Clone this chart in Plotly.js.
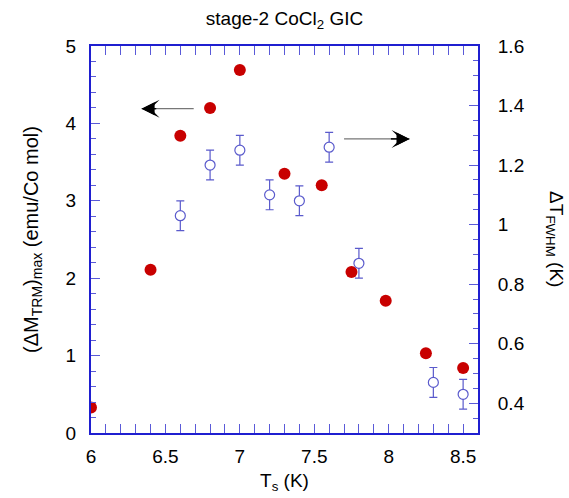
<!DOCTYPE html>
<html>
<head>
<meta charset="utf-8">
<script src="https://cdn.plot.ly/plotly-3.0.1.min.js"></script>
<style>html,body{margin:0;padding:0;background:#fff;}#chart{width:569px;height:498px;}</style>
</head>
<body>
<div id="chart"></div>
<script>
// Red filled circles: (ΔM_TRM)max, left axis
var tsTRM = [6.0, 6.4, 6.6, 6.8, 7.0, 7.3, 7.55, 7.75, 7.98, 8.25, 8.5];
var dMTRM = [0.33, 2.11, 3.84, 4.20, 4.69, 3.35, 3.20, 2.08, 1.71, 1.03, 0.84];
// Blue open circles: ΔT_FWHM, right axis
var tsFWHM = [6.6, 6.8, 7.0, 7.2, 7.4, 7.6, 7.8, 8.3, 8.5];
var dTFWHM = [1.03, 1.20, 1.25, 1.10, 1.08, 1.26, 0.87, 0.47, 0.43];
var dTErr = [0.05, 0.05, 0.05, 0.05, 0.05, 0.05, 0.05, 0.05, 0.05];

var frame = '#1f1fd0';
var tickc = '#5a5ad8';
var fam = 'Liberation Sans, Arial, sans-serif';
var font = {family: fam, size: 19, color: '#000'};
var tfont = {family: fam, size: 19, color: '#000'};

var traces = [
  {
    x: tsFWHM, y: dTFWHM, yaxis: 'y2', type: 'scatter', mode: 'markers',
    marker: {symbol: 'circle', size: 10, color: '#ffffff', line: {color: '#5a5acc', width: 1.2}},
    error_y: {type: 'data', array: dTErr, visible: true, color: '#5a5acc', thickness: 1.2, width: 4},
    showlegend: false
  },
  {
    x: tsTRM, y: dMTRM, type: 'scatter', mode: 'markers',
    marker: {symbol: 'circle', size: 12, color: '#c80000'},
    showlegend: false
  }
];

function arrow(hx, hy, tx, ty) {
  var sx = hx + (tx - hx) * 0.3;
  return [
    {xref: 'x', yref: 'y', axref: 'x', ayref: 'y', x: hx, y: hy, ax: tx, ay: ty,
     showarrow: true, arrowhead: 0, arrowwidth: 1.2, arrowcolor: '#777', text: ''},
    {xref: 'x', yref: 'y', axref: 'x', ayref: 'y', x: hx, y: hy, ax: sx, ay: ty,
     showarrow: true, arrowhead: 3, arrowsize: 3.0, arrowwidth: 1, arrowcolor: '#000', text: ''},
    {xref: 'x', yref: 'y', axref: 'x', ayref: 'y', x: hx, y: hy, ax: sx, ay: ty,
     showarrow: true, arrowhead: 2, arrowsize: 2.6, arrowwidth: 1, arrowcolor: '#000', text: ''}
  ];
}

var annotations = [].concat(
  arrow(6.34, 4.19, 6.70, 4.19),
  arrow(8.14, 3.80, 7.69, 3.80),
  [{xref: 'paper', yref: 'paper', x: 1.2, y: 0.5, xanchor: 'center', yanchor: 'middle',
    text: 'ΔT<sub>FWHM</sub> (K)', textangle: 90, showarrow: false, font: tfont}]
);

var layout = {
  width: 569, height: 498,
  margin: {l: 91, r: 91, t: 46, b: 65},
  paper_bgcolor: '#fff', plot_bgcolor: '#fff',
  font: font,
  title: {text: 'stage-2 CoCl<sub>2</sub> GIC', x: 0.5, xanchor: 'center', y: 0.963, yanchor: 'middle',
          font: {family: fam, size: 19, color: '#000'}},
  xaxis: {
    range: [6, 8.6], dtick: 0.5, tick0: 6,
    showline: true, linecolor: frame, linewidth: 2, mirror: 'allticks',
    ticks: 'inside', ticklen: 9, tickcolor: tickc, tickwidth: 1,
    minor: {dtick: 0.1, ticks: 'inside', ticklen: 5, tickcolor: tickc, tickwidth: 1},
    showgrid: false, zeroline: false,
    tickfont: font, ticklabelstandoff: 5,
    title: {text: 'T<sub>s</sub> (K)', font: tfont, standoff: 8}
  },
  yaxis: {
    range: [0, 5], dtick: 1, tick0: 0,
    showline: true, linecolor: frame, linewidth: 2,
    ticks: 'inside', ticklen: 9, tickcolor: tickc, tickwidth: 1,
    minor: {dtick: 0.2, ticks: 'inside', ticklen: 5, tickcolor: tickc, tickwidth: 1},
    showgrid: false, zeroline: false,
    tickfont: font, ticklabelstandoff: 9,
    title: {text: '(ΔM<sub>TRM</sub>)<sub>max</sub> (emu/Co mol)', font: {family: fam, size: 20, color: '#000'}, standoff: 22}
  },
  yaxis2: {
    overlaying: 'y', side: 'right',
    range: [0.3, 1.6], dtick: 0.2, tick0: 0.4,
    showline: true, linecolor: frame, linewidth: 2,
    ticks: 'inside', ticklen: 9, tickcolor: tickc, tickwidth: 1,
    minor: {dtick: 0.05, ticks: 'inside', ticklen: 5, tickcolor: tickc, tickwidth: 1},
    showgrid: false, zeroline: false,
    tickfont: font, ticklabelstandoff: 14
  },
  annotations: annotations
};

Plotly.newPlot('chart', traces, layout, {displayModeBar: false, staticPlot: true});
</script>
</body>
</html>
